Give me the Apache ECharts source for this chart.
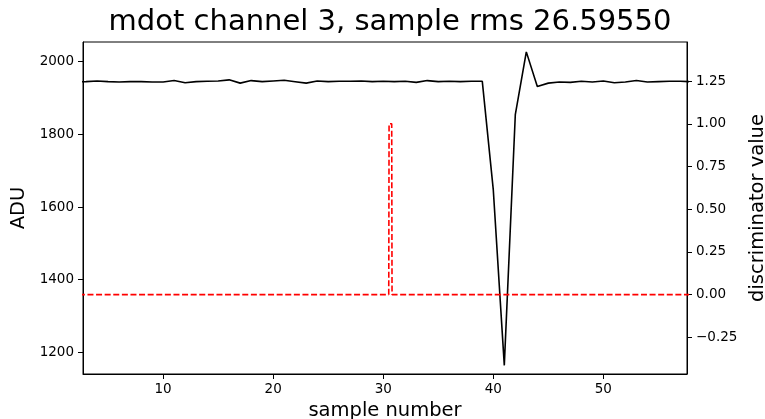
<!DOCTYPE html>
<html>
<head>
<meta charset="utf-8">
<script src="https://cdn.jsdelivr.net/npm/echarts@6/dist/echarts.min.js"></script>
<style>
html,body{margin:0;padding:0;background:#fff;}
#chart{width:765px;height:419px;}
</style>
</head>
<body>
<div id="chart"></div>
<script>
// ---- data ----
var sampleX = [];
for (var i = 0; i <= 59; i++) sampleX.push(i);
var adu = [
  1945, 1946, 1944, 1945, 1947, 1945, 1944, 1945, 1945, 1944,
  1944, 1948, 1942, 1945, 1946, 1947, 1950, 1941, 1948, 1945,
  1947, 1949, 1945, 1941, 1947, 1945, 1946, 1946, 1947, 1945,
  1946, 1945, 1946, 1943, 1948, 1945, 1946, 1945, 1946, 1946,
  1647, 1164, 1854, 2027, 1932, 1941, 1944, 1943, 1946, 1944,
  1947, 1942, 1944, 1948, 1944, 1945, 1946, 1946, 1945, 1945
];
var discX = [0, 30.5, 30.53, 30.77, 30.8, 60];
var discY = [0, 0, 1, 1, 0, 0];

var xTicks = [10, 20, 30, 40, 50];
var leftTicks = [1200, 1400, 1600, 1800, 2000];
var rightTicks = [-0.25, 0, 0.25, 0.5, 0.75, 1.0, 1.25];

var titleText = 'mdot channel 3, sample rms 26.59550';
var xName = 'sample number';
var leftName = 'ADU';
var rightName = 'discriminator value';

// ---- build ----
var aduData = sampleX.map(function (x, i) { return [x, adu[i]]; });
var discData = discX.map(function (x, i) { return [x, discY[i]]; });

var FONT = 'DejaVu Sans';
var chart = echarts.init(document.getElementById('chart'), null, {renderer: 'canvas'});

chart.setOption({
  animation: false,
  backgroundColor: '#fff',
  title: {
    text: titleText,
    left: 385,
    textAlign: 'center',
    top: 3,
    textStyle: {fontFamily: FONT, fontSize: 29, fontWeight: 'normal', color: '#000'}
  },
  grid: {
    left: 83, right: 78, top: 42, bottom: 45,
    outerBoundsMode: 'none',
    containLabel: false,
    show: true, borderColor: '#000', borderWidth: 1, backgroundColor: 'transparent'
  },
  xAxis: {
    type: 'value',
    min: 2.72, max: 57.6,
    name: xName, nameLocation: 'middle', nameGap: 27,
    nameTextStyle: {fontFamily: FONT, fontSize: 19.5, color: '#000'},
    axisLine: {show: true, onZero: false, lineStyle: {color: '#000', width: 1}},
    axisTick: {show: true, inside: false, length: 5, customValues: xTicks, lineStyle: {color: '#000'}},
    axisLabel: {customValues: xTicks, margin: 8, fontFamily: FONT, fontSize: 13.5, color: '#000',
      formatter: function (v) { return String(v); }},
    splitLine: {show: false}
  },
  yAxis: [
    {
      type: 'value',
      min: 1140.3, max: 2054.2,
      position: 'left',
      name: leftName, nameLocation: 'middle', nameGap: 42.5, nameRotate: 90,
      nameTextStyle: {fontFamily: FONT, fontSize: 19.5, color: '#000'},
      axisLine: {show: true, onZero: false, lineStyle: {color: '#000', width: 1}},
      axisTick: {show: true, inside: false, length: 5, customValues: leftTicks, lineStyle: {color: '#000'}},
      axisLabel: {customValues: leftTicks, margin: 9, fontFamily: FONT, fontSize: 13.5, color: '#000',
        formatter: function (v) { return String(v); }},
      splitLine: {show: false}
    },
    {
      type: 'value',
      min: -0.465, max: 1.479,
      position: 'right',
      name: rightName, nameLocation: 'middle', nameGap: 50, nameRotate: 90,
      nameTextStyle: {fontFamily: FONT, fontSize: 19.5, color: '#000'},
      axisLine: {show: true, onZero: false, lineStyle: {color: '#000', width: 1}},
      axisTick: {show: true, inside: false, length: 5, customValues: rightTicks, lineStyle: {color: '#000'}},
      axisLabel: {
        customValues: rightTicks, margin: 9, fontFamily: FONT, fontSize: 13.5, color: '#000',
        formatter: function (v) { return v.toFixed(2).replace('-', '\u2212'); }
      },
      splitLine: {show: false}
    }
  ],
  series: [
    {
      type: 'line', yAxisIndex: 0, data: aduData,
      symbol: 'none', clip: true,
      lineStyle: {color: '#000', width: 1.6},
      z: 2
    },
    {
      type: 'line', yAxisIndex: 1, data: discData,
      symbol: 'none', clip: true,
      lineStyle: {color: '#ff0000', width: 1.6, type: [6, 2.6]},
      z: 3
    }
  ]
});
</script>
</body>
</html>
